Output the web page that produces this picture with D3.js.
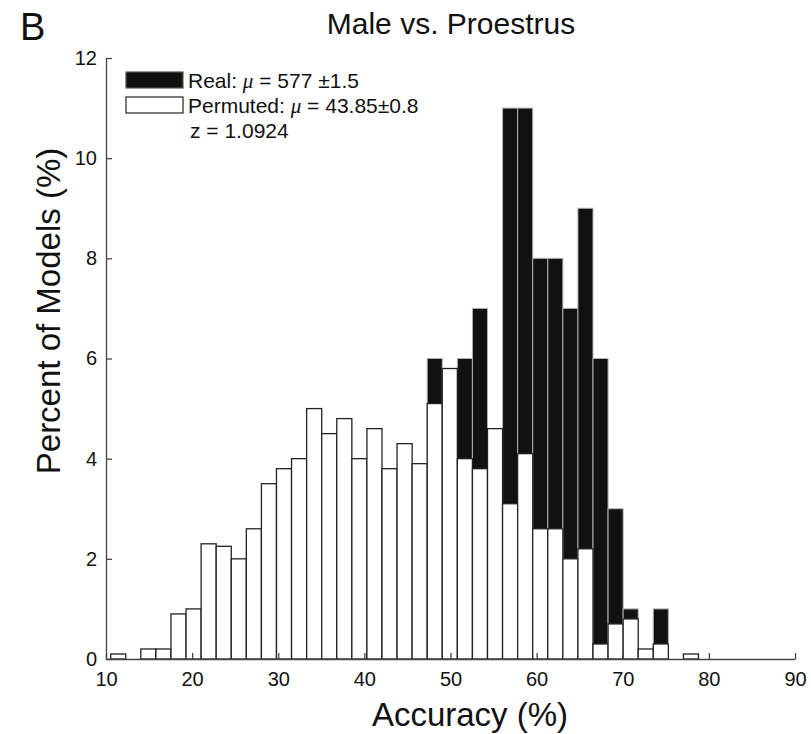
<!DOCTYPE html>
<html>
<head>
<meta charset="utf-8">
<script src="https://cdn.jsdelivr.net/npm/d3@7"></script>
<style>
  body { margin: 0; background: #fff; }
  svg { display: block; }
  text { font-family: "Liberation Sans", Arial, Helvetica, sans-serif; fill: #111; }
</style>
</head>
<body>
<svg id="chart" width="811" height="734"></svg>
<script>
// Histogram bins (accuracy %, bin centres) and bin width
const binCenters = [11.42, 13.17, 14.92, 16.67, 18.42, 20.17, 21.92, 23.67, 25.42, 27.17,
                    28.92, 30.67, 32.42, 34.17, 35.92, 37.67, 39.42, 41.17, 42.92, 44.67,
                    46.42, 48.17, 49.92, 51.67, 53.42, 55.17, 56.92, 58.67, 60.42, 62.17,
                    63.92, 65.67, 67.42, 69.17, 70.92, 72.67, 74.42, 76.17, 77.92, 79.67];
const binWidth = 1.75;

// Percent of models per bin
const permutedPct = [0.1, 0, 0.2, 0.2, 0.9, 1.0, 2.3, 2.25, 2.0, 2.6,
                     3.5, 3.8, 4.0, 5.0, 4.5, 4.8, 4.0, 4.6, 3.8, 4.3,
                     3.9, 5.1, 5.8, 4.0, 3.8, 4.6, 3.1, 4.1, 2.6, 2.6,
                     2.0, 2.2, 0.3, 0.7, 0.8, 0.2, 0.3, 0, 0.1, 0];
const realPct     = [0, 0, 0, 0, 0, 0, 0, 0, 0, 0,
                     0, 0, 0, 0, 0, 0, 0, 0, 0, 0,
                     0, 6, 5, 6, 7, 4, 11, 11, 8, 8,
                     7, 9, 6, 3, 1, 0, 1, 0, 0, 0];

const xTicks = [10, 20, 30, 40, 50, 60, 70, 80, 90];
const yTicks = [0, 2, 4, 6, 8, 10, 12];

const titleText = "Male vs. Proestrus";
const panelLabel = "B";
const xLabel = "Accuracy (%)";
const yLabel = "Percent of Models (%)";
const legendRows = [
  { key: "real",     pre: "Real: ",     post: " = 577 \u00b11.5" },
  { key: "permuted", pre: "Permuted: ", post: " = 43.85\u00b10.8" }
];
const zText = "z = 1.0924";

const svg = d3.select("#chart");
const x = d3.scaleLinear().domain([10, 90]).range([106, 795]);
const y = d3.scaleLinear().domain([0, 12]).range([659, 58]);

const bins = binCenters.map((c, i) => ({ c, real: realPct[i], perm: permutedPct[i] }));

// Real distribution underneath (black)
svg.append("g").selectAll("rect")
  .data(bins.filter(d => d.real > 0))
  .join("rect")
  .attr("x", d => x(d.c - binWidth / 2))
  .attr("width", d => x(d.c + binWidth / 2) - x(d.c - binWidth / 2))
  .attr("y", d => y(d.real))
  .attr("height", d => y(0) - y(d.real))
  .attr("fill", "#111")
  .attr("stroke", "#b0b0b0")
  .attr("stroke-width", 1);

// Permuted distribution on top (white, outlined)
svg.append("g").selectAll("rect")
  .data(bins)
  .join("rect")
  .attr("x", d => x(d.c - binWidth / 2))
  .attr("width", d => x(d.c + binWidth / 2) - x(d.c - binWidth / 2))
  .attr("y", d => y(d.perm))
  .attr("height", d => y(0) - y(d.perm))
  .attr("fill", "#fff")
  .attr("stroke", "#222")
  .attr("stroke-width", 1.3);

// Axes with inward ticks
const axisColor = "#444";
const gx = svg.append("g").attr("transform", `translate(0,${y(0)})`)
  .call(d3.axisBottom(x).tickValues(xTicks).tickSizeInner(-6).tickSizeOuter(0).tickPadding(13));
const gy = svg.append("g").attr("transform", `translate(${x(10)},0)`)
  .call(d3.axisLeft(y).tickValues(yTicks).tickSizeInner(-6).tickSizeOuter(0).tickPadding(9));
[gx, gy].forEach(g => {
  g.select(".domain").attr("stroke", axisColor).attr("stroke-width", 1.3);
  g.selectAll(".tick line").attr("stroke", axisColor).attr("stroke-width", 1.3);
  g.selectAll(".tick text").attr("font-size", 20).attr("fill", "#111")
    .style("font-family", '"Liberation Sans", Arial, sans-serif');
});

// Titles and axis labels
svg.append("text").attr("x", 451).attr("y", 34).attr("text-anchor", "middle")
  .attr("font-size", 30).text(titleText);
svg.append("text").attr("x", 20).attr("y", 40).attr("font-size", 38).text(panelLabel);
svg.append("text").attr("x", 470).attr("y", 726).attr("text-anchor", "middle")
  .attr("font-size", 33).text(xLabel);
svg.append("text").attr("transform", "translate(60,311) rotate(-90)")
  .attr("text-anchor", "middle").attr("font-size", 33).text(yLabel);

// Legend
const lg = svg.append("g");
const swatch = { real: { fill: "#111", stroke: "#555" }, permuted: { fill: "#fff", stroke: "#222" } };
legendRows.forEach((r, i) => {
  const top = 72 + i * 25;
  lg.append("rect").attr("x", 126).attr("y", top).attr("width", 57).attr("height", 16)
    .attr("fill", swatch[r.key].fill).attr("stroke", swatch[r.key].stroke).attr("stroke-width", 1.2);
  const t = lg.append("text").attr("x", 188).attr("y", top + 16).attr("font-size", 21);
  t.append("tspan").text(r.pre);
  t.append("tspan").attr("font-family", '"Liberation Serif", "DejaVu Serif", serif')
    .attr("font-style", "italic").text("\u03bc");
  t.append("tspan").text(r.post);
});
lg.append("text").attr("x", 190).attr("y", 138).attr("font-size", 21).text(zText);
</script>
</body>
</html>
